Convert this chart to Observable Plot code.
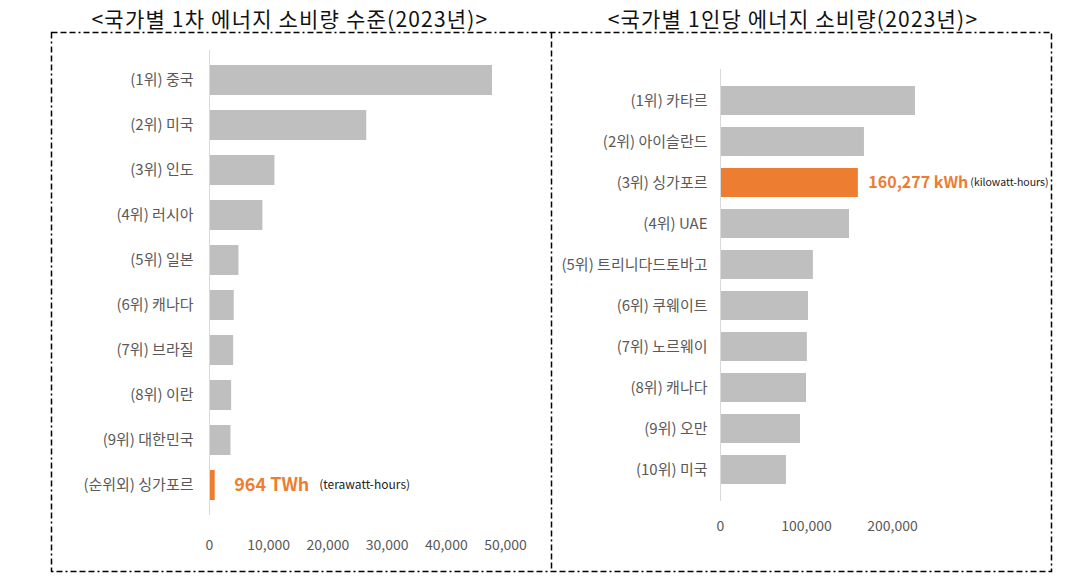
<!DOCTYPE html>
<html>
<head>
<meta charset="utf-8">
<script src="https://cdn.jsdelivr.net/npm/d3@7"></script>
<script src="https://cdn.jsdelivr.net/npm/@observablehq/plot@0.6"></script>
<style>
  body { margin: 0; background: #fff; }
  #root { position: relative; width: 1089px; height: 576px; background: #fff; font-family: "Noto Sans CJK KR", "Noto Sans", sans-serif; overflow: hidden; }
  .title { position: absolute; top: 4px; font-size: 21px; letter-spacing: 1.2px; color: #111; white-space: nowrap; transform: translateX(-50%); line-height: 28px; }
  .panel { position: absolute; }
  #frame { position: absolute; left: 0; top: 0; }
</style>
</head>
<body>
<div id="root">
  <div class="title" id="t1" style="left:290px;"></div>
  <div class="title" id="t2" style="left:793px;"></div>
  <svg id="frame" width="1089" height="576">
    <rect x="51.5" y="32.5" width="1000" height="539" fill="none" stroke="#000" stroke-width="1.5" stroke-dasharray="6,3,6,3,6,3,2,3"></rect>
    <line x1="551.5" y1="32.5" x2="551.5" y2="571.5" stroke="#000" stroke-width="1.5" stroke-dasharray="6,3,6,3,6,3,2,3"></line>
  </svg>
  <div class="panel" id="p1" style="left:51px; top:33px;"></div>
  <div class="panel" id="p2" style="left:551px; top:33px;"></div>
</div>
<script>
// ---- Data ----
const leftTitle = "<국가별 1차 에너지 소비량 수준(2023년)>";
const rightTitle = "<국가별 1인당 에너지 소비량(2023년)>";

const leftCountries = ["(1위) 중국", "(2위) 미국", "(3위) 인도", "(4위) 러시아", "(5위) 일본", "(6위) 캐나다", "(7위) 브라질", "(8위) 이란", "(9위) 대한민국", "(순위외) 싱가포르"];
const leftValues = [47800, 26560, 11050, 9020, 4980, 4180, 4080, 3740, 3630, 964]; // TWh
const leftTicks = [0, 10000, 20000, 30000, 40000, 50000];
const leftHighlight = "(순위외) 싱가포르";
const leftAnnot = "964 TWh";
const leftUnit = "(terawatt-hours)";

const rightCountries = ["(1위) 카타르", "(2위) 아이슬란드", "(3위) 싱가포르", "(4위) UAE", "(5위) 트리니다드토바고", "(6위) 쿠웨이트", "(7위) 노르웨이", "(8위) 캐나다", "(9위) 오만", "(10위) 미국"];
const rightValues = [226700, 167400, 160277, 150000, 108000, 102300, 101000, 100000, 93000, 76700]; // kWh per capita
const rightTicks = [0, 100000, 200000];
const rightHighlight = "(3위) 싱가포르";
const rightAnnot = "160,277 kWh";
const rightUnit = "(kilowatt-hours)";

// ---- Styles ----
const GRAY = "#bfbfbf";
const ORANGE = "#ed7d31";
const TEXT = "#595959";
const FONT = "'Noto Sans CJK KR', 'Noto Sans', sans-serif";

document.getElementById("t1").textContent = leftTitle;
document.getElementById("t2").textContent = rightTitle;

const leftData = leftCountries.map((name, i) => ({name, value: leftValues[i], hi: name === leftHighlight}));
const rightData = rightCountries.map((name, i) => ({name, value: rightValues[i], hi: name === rightHighlight}));

const fmt = d3.format(",");

const left = Plot.plot({
  width: 500, height: 539,
  marginLeft: 158, marginRight: 46, marginTop: 17, marginBottom: 57,
  style: {fontFamily: FONT, background: "transparent", overflow: "visible"},
  x: {domain: [0, 50000]},
  y: {domain: leftCountries, padding: 0.33},
  marks: [
    Plot.barX(leftData, {x: "value", y: "name", fill: d => d.hi ? ORANGE : GRAY}),
    Plot.ruleX([0], {stroke: "#d9d9d9", strokeWidth: 1}),
    Plot.axisX({ticks: leftTicks, tickSize: 0, tickPadding: 25, tickFormat: fmt, fontSize: 14, color: TEXT, label: null}),
    Plot.axisY({tickSize: 0, tickPadding: 16, fontSize: 15, color: TEXT, label: null}),
    Plot.text(leftData.filter(d => d.hi), {x: "value", y: "name", text: () => leftAnnot, dx: 19, textAnchor: "start", fill: ORANGE, fontWeight: "bold", fontSize: 18}),
    Plot.text(leftData.filter(d => d.hi), {x: "value", y: "name", text: () => leftUnit, dx: 104, textAnchor: "start", fill: "#222", fontSize: 12})
  ]
});
document.getElementById("p1").appendChild(left);

const right = Plot.plot({
  width: 501, height: 539,
  marginLeft: 169, marginRight: 117, marginTop: 36, marginBottom: 71,
  style: {fontFamily: FONT, background: "transparent", overflow: "visible"},
  x: {domain: [0, 250000]},
  y: {domain: rightCountries, padding: 0.3},
  marks: [
    Plot.barX(rightData, {x: "value", y: "name", fill: d => d.hi ? ORANGE : GRAY}),
    Plot.ruleX([0], {stroke: "#d9d9d9", strokeWidth: 1}),
    Plot.axisX({ticks: rightTicks, tickSize: 0, tickPadding: 20, tickFormat: fmt, fontSize: 14, color: TEXT, label: null}),
    Plot.axisY({tickSize: 0, tickPadding: 13, fontSize: 15, color: TEXT, label: null}),
    Plot.text(rightData.filter(d => d.hi), {x: "value", y: "name", text: () => rightAnnot, dx: 10, textAnchor: "start", fill: ORANGE, fontWeight: "bold", fontSize: 16}),
    Plot.text(rightData.filter(d => d.hi), {x: "value", y: "name", text: () => rightUnit, dx: 112, textAnchor: "start", fill: "#222", fontSize: 10.5})
  ]
});
document.getElementById("p2").appendChild(right);
</script>
</body>
</html>
